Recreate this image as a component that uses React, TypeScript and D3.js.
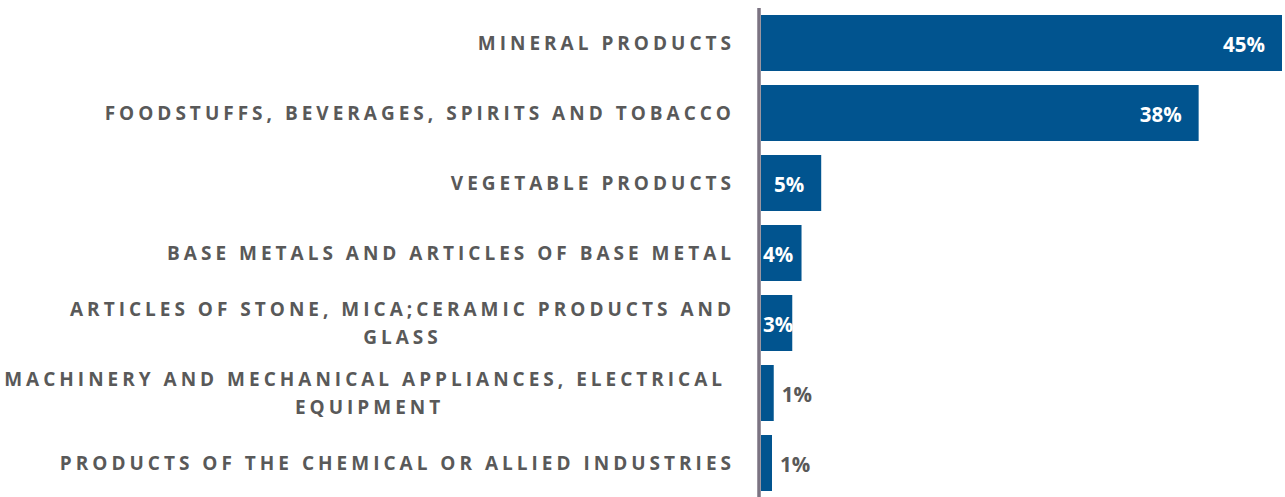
import * as d3 from "d3";
import { useRef, useEffect } from "react";

const categories = [
  "MINERAL PRODUCTS",
  "FOODSTUFFS, BEVERAGES, SPIRITS AND TOBACCO",
  "VEGETABLE PRODUCTS",
  "BASE METALS AND ARTICLES OF BASE METAL",
  "ARTICLES OF STONE, MICA;CERAMIC PRODUCTS AND\nGLASS",
  "MACHINERY AND MECHANICAL APPLIANCES, ELECTRICAL \nEQUIPMENT",
  "PRODUCTS OF THE CHEMICAL OR ALLIED INDUSTRIES",
];
const shares = [45, 37.8, 5.2, 3.5, 2.7, 1.1, 0.95];

export default function App() {
  const ref = useRef<SVGSVGElement>(null);

  useEffect(() => {
    const svg = d3.select(ref.current);
    svg.selectAll("*").remove();

    const w = 1285, h = 497;
    const axisX = 761;
    const labelRight = 731;
    const ls = 4;
    const blue = "#01548f";
    const grey = "#595959";

    const x = d3.scaleLinear().domain([0, 45]).range([axisX, 1282]);
    const y = d3.scaleBand<string>()
      .domain(categories)
      .range([8, 498])
      .paddingInner(0.2)
      .paddingOuter(0.1);

    const data = categories.map((c, i) => ({ c, v: shares[i] }));

    // bars
    svg.append("g")
      .selectAll("rect")
      .data(data)
      .join("rect")
      .attr("x", x(0))
      .attr("y", d => y(d.c)!)
      .attr("width", d => x(d.v) - x(0))
      .attr("height", y.bandwidth())
      .attr("fill", blue);

    // axis line
    svg.append("line")
      .attr("x1", axisX - 2).attr("x2", axisX - 2)
      .attr("y1", 8).attr("y2", h)
      .attr("stroke", "#7b7382")
      .attr("stroke-width", 3.5);

    // category labels
    const lh = 28;
    data.forEach(d => {
      const lines = d.c.split("\n");
      const cy = y(d.c)! + y.bandwidth() / 2;
      const g = svg.append("g");
      const texts = lines.map((line, i) =>
        g.append("text")
          .attr("y", cy + (i - (lines.length - 1) / 2) * lh)
          .attr("dy", "0.36em")
          .attr("fill", grey)
          .style("font-family", "'Open Sans', sans-serif")
          .style("font-weight", 700)
          .style("font-size", "19px")
          .style("letter-spacing", `${ls}px`)
          .style("white-space", "pre")
          .text(line)
      );
      const widths = texts.map(t => (t.node() as SVGTextElement).getComputedTextLength());
      const maxW = d3.max(widths) ?? 0;
      const center = labelRight + ls - maxW / 2;
      texts.forEach(t => t.attr("x", center).attr("text-anchor", "middle"));
    });

    // value labels
    data.forEach(d => {
      const cy = y(d.c)! + y.bandwidth() / 2;
      const end = x(d.v);
      const inside = d.v >= 2.5;
      const t = svg.append("text")
        .attr("y", cy + 1.5)
        .attr("dy", "0.36em")
        .attr("fill", inside ? "#ffffff" : grey)
        .style("font-family", "'Open Sans', sans-serif")
        .style("font-weight", 700)
        .style("font-size", "20.5px")
        .text(`${Math.round(d.v)}%`);
      const tw = (t.node() as SVGTextElement).getComputedTextLength();
      if (inside) {
        const start = Math.max(axisX + 2, end - 17 - tw);
        t.attr("x", start);
      } else {
        t.attr("x", end + 8);
      }
    });

    svg.attr("width", w).attr("height", h);
  }, []);

  return (
    <svg
      ref={ref}
      width={1285}
      height={497}
      style={{ position: "absolute", left: 0, top: 0, display: "block", background: "#fff" }}
    />
  );
}
